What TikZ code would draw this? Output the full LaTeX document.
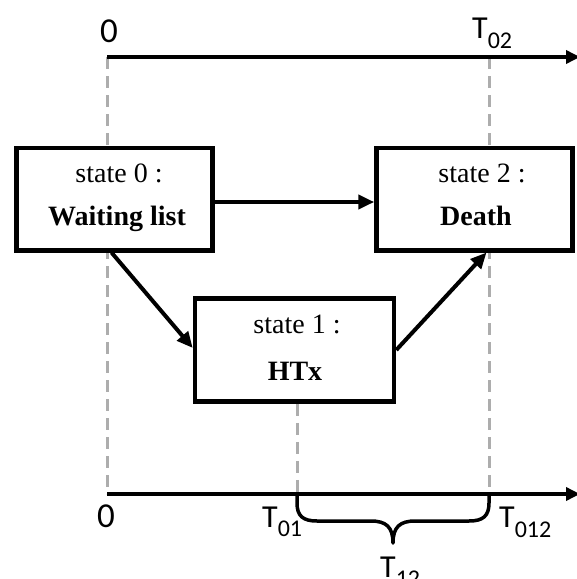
\documentclass[tikz,border=0pt]{standalone}
\usepackage{fontspec}
\setmainfont{Liberation Serif}
\newfontfamily\axfont{Carlito}
\usetikzlibrary{arrows.meta}
\newcommand\Tlab[2]{{\axfont\fontsize{32}{32}\selectfont T}\raisebox{-#2pt}{\axfont\fontsize{24}{24}\selectfont #1}}
\newcommand\zerolab{{\axfont\fontsize{35}{35}\selectfont 0}}
\begin{document}
\begin{tikzpicture}[x=1pt,y=-1pt,
  stbox/.style={draw,line width=4.5pt,fill=white,minimum width=196pt,minimum height=102.5pt,inner sep=0pt},
  sttxt/.style={anchor=base,inner sep=0pt,font=\fontsize{28}{28}\selectfont},
  stbold/.style={anchor=base,inner sep=0pt,font=\fontsize{28}{28}\selectfont\bfseries},
  guide/.style={draw=black!32,line width=3pt,dash pattern=on 12pt off 7pt},
  conn/.style={line width=4pt,-{Triangle[length=16pt,width=14pt]}},
  axisline/.style={line width=3.8pt,-{Triangle[length=14pt,width=13pt]}},
  axlab/.style={anchor=base,inner sep=0pt},
  tlab/.style={anchor=base west,inner sep=0pt}
]
\clip (0,0) rectangle (577,579);
\useasboundingbox (0,0) rectangle (577,579);

% axis coordinates
\coordinate (t0) at (107,57);
\coordinate (t2) at (489,57);
\coordinate (tend) at (580,57);
\coordinate (b0) at (107,494);
\coordinate (b1) at (297,494);
\coordinate (b2) at (489,494);
\coordinate (bend) at (580,494);

% guide lines
\draw[guide] (t0) -- (b0);
\draw[guide] (t2) -- (b2);

% boxes
\node[stbox] (s0) at (114.5,199) {};
\node[stbox] (s2) at (474.5,199) {};
\node[stbox,minimum width=199pt,minimum height=103pt] (s1) at (294.5,350) {};

\draw[guide] (b1 |- s1.south) -- (b1);

% box texts
\node[sttxt] (s0a) at (119,182) {state 0 :};
\node[stbold] (s0b) at (117,225) {Waiting list};
\node[sttxt] (s2a) at (482,182) {state 2 :};
\node[stbold] (s2b) at (476,225) {Death};
\node[sttxt] (s1a) at (297,333) {state 1 :};
\node[stbold] (s1b) at (295,380) {HTx};

% connectors
\draw[conn] ([yshift=-3pt]s0.east) -- ([yshift=-3pt]s2.west);
\draw[conn] ([xshift=-3pt]s0.south) -- ([yshift=2pt]s1.west);
\draw[conn] (s1.east) -- ([xshift=12pt]s2.south);

% axes
\draw[axisline] (t0) -- (tend);
\draw[axisline] (b0) -- (bend);

% brace
\draw[line width=3.5pt,line cap=round,line join=round]
  (b1) -- (297,503) .. controls (297,516) and (303,521) .. (317,521)
  -- (371,521) .. controls (386,521) and (393,527) .. (393,543)
  .. controls (393,527) and (400,521) .. (415,521)
  -- (469,521) .. controls (483,521) and (489,516) .. (489,503) -- (b2);

% labels
\node[axlab] (l0t) at (109,42) {\zerolab};
\node[tlab] (lt02) at (472,38) {\Tlab{02}{10}};
\node[axlab] (l0b) at (106,527) {\zerolab};
\node[tlab] (lt01) at (262,527) {\Tlab{01}{9}};
\node[tlab] (lt012) at (499,527) {\Tlab{012}{10}};
\node[tlab] (lt12) at (380,577) {\Tlab{12}{9}};
\end{tikzpicture}
\end{document}
